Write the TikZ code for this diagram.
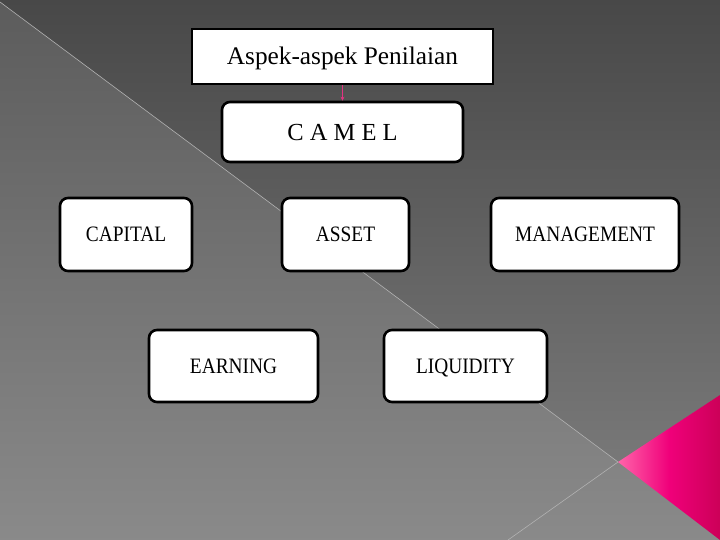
\documentclass[tikz,border=0pt]{standalone}
\usepackage{fontspec}
\setmainfont{Liberation Serif}
\newfontfamily\boxfont{Liberation Serif}[FakeStretch=0.88]
\usetikzlibrary{arrows.meta}

\begin{document}
\begin{tikzpicture}[x=1pt,y=-1pt]
\definecolor{bg_dark}{RGB}{72,72,72};
\definecolor{camel_pink}{RGB}{226,52,130};
\definecolor{tip_pink}{RGB}{255,100,170};
\definecolor{mid_pink}{RGB}{240,0,122};
\definecolor{edge_pink}{RGB}{204,0,88};
\def\boxrounding{8pt};
\tikzset{
  titlebox/.style={draw=black,line width=2.6pt,fill=white,inner sep=0pt,
    text height=16.7pt,text depth=0pt,font=\fontsize{25.3}{28}\selectfont},
  camelbox/.style={draw=black,line width=2.6pt,fill=white,inner sep=0pt,
    rounded corners=\boxrounding,text height=14.6pt,text depth=0pt,
    font=\boxfont\fontsize{22}{26}\selectfont},
}
\useasboundingbox (0,0) rectangle (720,540);

% background
\shade[top color=black!64,bottom color=black!46] (0,0) rectangle (720,540);
\shade[top color=bg_dark,bottom color=black!53] (0,0) -- (720,0) -- (720,395) -- (618,462) -- (0,2) -- cycle;
\draw[black!30,line width=0.6pt] (0,2) -- (618,462) -- (508,540);

% pink corner
\shade[left color=tip_pink,right color=edge_pink,middle color=mid_pink]
  (618,462) -- (720,395) -- (720,540) -- cycle;

% boxes
\node[titlebox,minimum width=301pt,minimum height=55pt] (aspek) at (342.5,56.5) {Aspek-aspek Penilaian};
\node[camelbox,minimum width=241pt,minimum height=60pt,text height=16.2pt,font=\fontsize{24.5}{28}\selectfont] (camel) at (342.5,132) {C A M E L};

\node[camelbox,minimum width=132pt,minimum height=73pt] (capital) at (126,234.5) {CAPITAL};
\node[camelbox,minimum width=127pt,minimum height=73pt] (asset) at (345.5,234.5) {ASSET};
\node[camelbox,minimum width=188pt,minimum height=73pt] (management) at (585,234.5) {MANAGEMENT};

\node[camelbox,minimum width=169pt,minimum height=72pt] (earning) at (233.5,366) {EARNING};
\node[camelbox,minimum width=163pt,minimum height=72pt] (liquidity) at (465.5,366) {LIQUIDITY};

% arrow
\draw[camel_pink,line width=1pt,-{Stealth[length=4pt,width=4pt]}] (aspek) -- (camel);
\end{tikzpicture}
\end{document}
